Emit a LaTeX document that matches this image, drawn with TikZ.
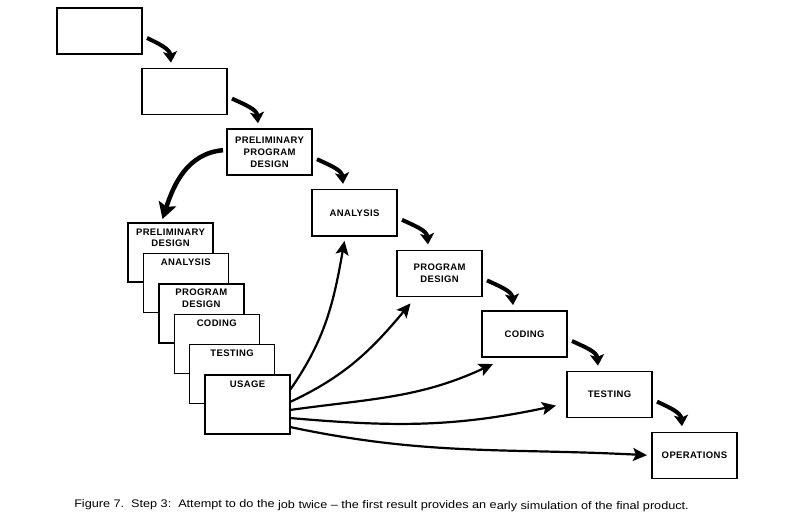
\documentclass[tikz,border=0pt]{standalone}
\usepackage{fontspec}
\newfontfamily\boxfont[LetterSpace=4]{Liberation Sans}
\newfontfamily\capfont{Liberation Sans}
\usetikzlibrary{positioning, arrows.meta}

\begin{document}
\begin{tikzpicture}[x=1pt, y=-1pt,
            block/.style={
                rectangle,
                draw,
                line width=1.4pt,
                outer sep=0pt,
                fill=white,
                minimum width=85pt,
                minimum height=46pt,
                align=center,
                font=\boxfont\bfseries\fontsize{9.5}{11.8}\selectfont
            },
            sheet/.style={
                block,
                minimum height=59pt
            },
            lbl/.style={
                align=center,
                font=\boxfont\bfseries\fontsize{9.5}{11.8}\selectfont
            },
            flow/.style={
                -{Stealth[length=11pt,width=14pt,inset=2.5pt]},
                line width=4pt
            },
            fan/.style={
                -{Stealth[length=14pt,width=13pt,inset=3pt]},
                line width=2.2pt
            },
            back/.style={
                -{Stealth[length=16pt,width=18pt,inset=3pt]},
                line width=4.5pt
            }
        ]
            \useasboundingbox (0,0) rectangle (793,524);

            % second pass
            \node [block, anchor=north west] (s1) at (57,8) {};
            \node [block, below right=14.6pt and 0pt of s1] (s2) {};
            \node [block, below right=14.6pt and 0pt of s2] (ppd) {PRELIMINARY\\PROGRAM\\DESIGN};
            \node [block, below right=14.6pt and 0pt of ppd] (an) {ANALYSIS};
            \node [block, below right=14.6pt and 0pt of an] (pd) {PROGRAM\\DESIGN};
            \node [block, below right=14.6pt and 0pt of pd] (cod) {CODING};
            \node [block, below right=14.6pt and 0pt of cod] (tst) {TESTING};
            \node [block, below right=14.6pt and 0pt of tst] (ops) {OPERATIONS};

            % first pass, stacked sheets
            \node [sheet, anchor=north west] (pdes) at (128,223) {};
            \node [lbl, below=2pt of pdes.north] (pdeslbl) {PRELIMINARY\\DESIGN};
            \node [sheet, anchor=north west] (pan) at ([xshift=15.4pt,yshift=-30.4pt]pdes.north west) {};
            \node [lbl, below=2pt of pan.north] (panlbl) {ANALYSIS};
            \node [sheet, anchor=north west] (ppdes) at ([xshift=15.4pt,yshift=-30.4pt]pan.north west) {};
            \node [lbl, below=2pt of ppdes.north] (ppdeslbl) {PROGRAM\\DESIGN};
            \node [sheet, anchor=north west] (pcod) at ([xshift=15.4pt,yshift=-30.4pt]ppdes.north west) {};
            \node [lbl, below=2pt of pcod.north] (pcodlbl) {CODING};
            \node [sheet, anchor=north west] (ptst) at ([xshift=15.4pt,yshift=-30.4pt]pcod.north west) {};
            \node [lbl, below=2pt of ptst.north] (ptstlbl) {TESTING};
            \node [sheet, anchor=north west] (use) at ([xshift=15.4pt,yshift=-30.4pt]ptst.north west) {};
            \node [lbl, below=2pt of use.north] (uselbl) {USAGE};

            \draw [flow] ([xshift=5pt,yshift=-7pt]s1.east) to[out=-25, in=95] ([xshift=29pt,yshift=6pt]s2.north west);
            \draw [flow] ([xshift=5pt,yshift=-7pt]s2.east) to[out=-25, in=95] ([xshift=31pt,yshift=6pt]ppd.north west);
            \draw [flow] ([xshift=5pt,yshift=-7pt]ppd.east) to[out=-25, in=95] ([xshift=31pt,yshift=6pt]an.north west);
            \draw [flow] ([xshift=5pt,yshift=-7pt]an.east) to[out=-25, in=95] ([xshift=31pt,yshift=6pt]pd.north west);
            \draw [flow] ([xshift=5pt,yshift=-7pt]pd.east) to[out=-25, in=95] ([xshift=31pt,yshift=6pt]cod.north west);
            \draw [flow] ([xshift=5pt,yshift=-7pt]cod.east) to[out=-25, in=95] ([xshift=31pt,yshift=6pt]tst.north west);
            \draw [flow] ([xshift=5pt,yshift=-7pt]tst.east) to[out=-25, in=95] ([xshift=30pt,yshift=6pt]ops.north west);

            \draw [back] ([xshift=-4pt,yshift=2pt]ppd.west) to[out=185, in=72] ([xshift=-8pt,yshift=4pt]pdes.north);

            \draw [fan] ([yshift=14.5pt]use.east) to[out=55, in=-100] ([xshift=-10pt,yshift=-5pt]an.south);
            \draw [fan] ([yshift=2.5pt]use.east) to[out=25, in=-130] ([xshift=-29pt,yshift=-7pt]pd.south);
            \draw [fan] ([yshift=-5.5pt]use.east) to[out=8, in=-155] ([xshift=11pt,yshift=-7pt]cod.south west);
            \draw [fan] ([yshift=-13.5pt]use.east) to[out=-5, in=192] ([xshift=-11pt,yshift=-11pt]tst.west);
            \draw [fan] ([yshift=-22.5pt]use.east) to[out=-12, in=177] ([xshift=-5pt]ops.west);

            \node [font=\capfont\fontsize{11}{13}\selectfont, xscale=1.15, rotate=-0.3, anchor=base] (cap) at (381.5,508.5)
                {Figure 7.\ \ Step 3:\ \ Attempt to do the job twice \textendash{} the first result provides an early simulation of the final product.};
        \end{tikzpicture}
\end{document}
